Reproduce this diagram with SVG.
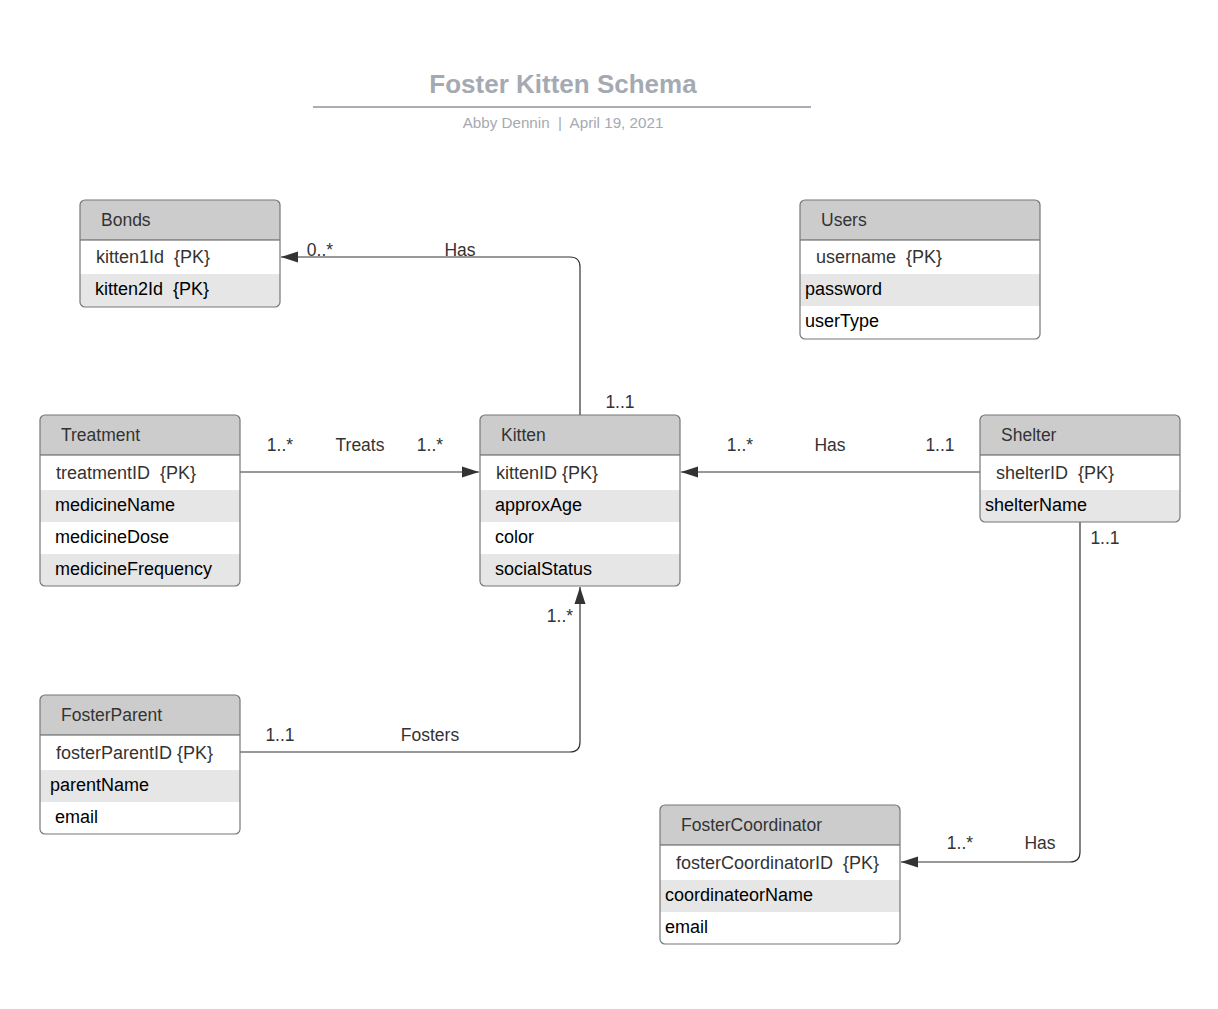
<svg xmlns="http://www.w3.org/2000/svg" width="1218" height="1009" viewBox="0 0 1218 1009" xml:space="preserve">
<style>
text{font-family:"Liberation Sans",Arial,sans-serif;white-space:pre;}
.box{fill:none;stroke:#777;stroke-width:1.2;}
.hdr{fill:#cccccc;}
.alt{fill:#e6e6e6;}
.sep{stroke:#555;stroke-width:1.2;}
.ht{font-size:17.5px;fill:#333;}
.pk{font-size:18px;fill:#333;}
.at{font-size:18px;fill:#000;}
.lbl{font-size:17.5px;fill:#333;text-anchor:middle;}
.con{fill:none;stroke:#333;stroke-width:1.2;}
</style>
<defs>
<marker id="arr" markerWidth="18" markerHeight="12" refX="17" refY="6" orient="auto" markerUnits="userSpaceOnUse">
<path d="M0,0.5 L17,6 L0,11.5 Z" fill="#333"/>
</marker>
<clipPath id="cBonds"><rect x="80" y="200" width="200" height="107" rx="5"/></clipPath>
<clipPath id="cUsers"><rect x="800" y="200" width="240" height="139" rx="5"/></clipPath>
<clipPath id="cTreat"><rect x="40" y="415" width="200" height="171" rx="5"/></clipPath>
<clipPath id="cKitten"><rect x="480" y="415" width="200" height="171" rx="5"/></clipPath>
<clipPath id="cShelter"><rect x="980" y="415" width="200" height="107" rx="5"/></clipPath>
<clipPath id="cFP"><rect x="40" y="695" width="200" height="139" rx="5"/></clipPath>
<clipPath id="cFC"><rect x="660" y="805" width="240" height="139" rx="5"/></clipPath>
</defs>
<rect width="1218" height="1009" fill="#fff"/>

<g id="title">
<text x="563" y="93" text-anchor="middle" style="font-size:26px;font-weight:bold;fill:#a5aab2">Foster Kitten Schema</text>
<line x1="313" y1="107" x2="811" y2="107" stroke="#a9adb5" stroke-width="2"/>
<text x="563" y="128" text-anchor="middle" style="font-size:15.2px;fill:#a5aab2">Abby Dennin  |  April 19, 2021</text>
</g>

<g id="connectors">
<path class="con" d="M580,415 V267 Q580,257 570,257 H281" marker-end="url(#arr)"/>
<path class="con" d="M240,472 H479" marker-end="url(#arr)"/>
<path class="con" d="M980,472 H681" marker-end="url(#arr)"/>
<path class="con" d="M240,752 H570 Q580,752 580,742 V587" marker-end="url(#arr)"/>
<path class="con" d="M1080,522 V852 Q1080,862 1070,862 H901" marker-end="url(#arr)"/>
<text class="lbl" x="320" y="256">0..*</text>
<text class="lbl" x="460" y="256">Has</text>
<text class="lbl" x="620" y="408">1..1</text>
<text class="lbl" x="280" y="451">1..*</text>
<text class="lbl" x="360" y="451">Treats</text>
<text class="lbl" x="430" y="451">1..*</text>
<text class="lbl" x="740" y="451">1..*</text>
<text class="lbl" x="830" y="451">Has</text>
<text class="lbl" x="940" y="451">1..1</text>
<text class="lbl" x="280" y="741">1..1</text>
<text class="lbl" x="430" y="741">Fosters</text>
<text class="lbl" x="560" y="622">1..*</text>
<text class="lbl" x="1105" y="544">1..1</text>
<text class="lbl" x="960" y="849">1..*</text>
<text class="lbl" x="1040" y="849">Has</text>
</g>

<g id="bonds">
<g clip-path="url(#cBonds)">
<rect x="80" y="200" width="200" height="107" fill="#fff"/>
<rect class="hdr" x="80" y="200" width="200" height="40"/>
<rect class="alt" x="80" y="274" width="200" height="33"/>
</g>
<line class="sep" x1="80" y1="240" x2="280" y2="240"/>
<rect class="box" x="80" y="200" width="200" height="107" rx="5"/>
<text class="ht" x="101" y="226">Bonds</text>
<text class="pk" x="96" y="263">kitten1Id  {PK}</text>
<text class="at" x="95" y="295">kitten2Id  {PK}</text>
</g>

<g id="users">
<g clip-path="url(#cUsers)">
<rect x="800" y="200" width="240" height="139" fill="#fff"/>
<rect class="hdr" x="800" y="200" width="240" height="40"/>
<rect class="alt" x="800" y="274" width="240" height="32"/>
</g>
<line class="sep" x1="800" y1="240" x2="1040" y2="240"/>
<rect class="box" x="800" y="200" width="240" height="139" rx="5"/>
<text class="ht" x="821" y="226">Users</text>
<text class="pk" x="816" y="263">username  {PK}</text>
<text class="at" x="805" y="295">password</text>
<text class="at" x="805" y="327">userType</text>
</g>

<g id="treatment">
<g clip-path="url(#cTreat)">
<rect x="40" y="415" width="200" height="171" fill="#fff"/>
<rect class="hdr" x="40" y="415" width="200" height="40"/>
<rect class="alt" x="40" y="490" width="200" height="32"/>
<rect class="alt" x="40" y="554" width="200" height="32"/>
</g>
<line class="sep" x1="40" y1="455" x2="240" y2="455"/>
<rect class="box" x="40" y="415" width="200" height="171" rx="5"/>
<text class="ht" x="61" y="441">Treatment</text>
<text class="pk" x="56" y="479">treatmentID  {PK}</text>
<text class="at" x="55" y="511">medicineName</text>
<text class="at" x="55" y="543">medicineDose</text>
<text class="at" x="55" y="575">medicineFrequency</text>
</g>

<g id="kitten">
<g clip-path="url(#cKitten)">
<rect x="480" y="415" width="200" height="171" fill="#fff"/>
<rect class="hdr" x="480" y="415" width="200" height="40"/>
<rect class="alt" x="480" y="490" width="200" height="32"/>
<rect class="alt" x="480" y="554" width="200" height="32"/>
</g>
<line class="sep" x1="480" y1="455" x2="680" y2="455"/>
<rect class="box" x="480" y="415" width="200" height="171" rx="5"/>
<text class="ht" x="501" y="441">Kitten</text>
<text class="pk" x="496" y="479">kittenID {PK}</text>
<text class="at" x="495" y="511">approxAge</text>
<text class="at" x="495" y="543">color</text>
<text class="at" x="495" y="575">socialStatus</text>
</g>

<g id="shelter">
<g clip-path="url(#cShelter)">
<rect x="980" y="415" width="200" height="107" fill="#fff"/>
<rect class="hdr" x="980" y="415" width="200" height="40"/>
<rect class="alt" x="980" y="490" width="200" height="32"/>
</g>
<line class="sep" x1="980" y1="455" x2="1180" y2="455"/>
<rect class="box" x="980" y="415" width="200" height="107" rx="5"/>
<text class="ht" x="1001" y="441">Shelter</text>
<text class="pk" x="996" y="479">shelterID  {PK}</text>
<text class="at" x="985" y="511">shelterName</text>
</g>

<g id="fosterparent">
<g clip-path="url(#cFP)">
<rect x="40" y="695" width="200" height="139" fill="#fff"/>
<rect class="hdr" x="40" y="695" width="200" height="40"/>
<rect class="alt" x="40" y="770" width="200" height="32"/>
</g>
<line class="sep" x1="40" y1="735" x2="240" y2="735"/>
<rect class="box" x="40" y="695" width="200" height="139" rx="5"/>
<text class="ht" x="61" y="721">FosterParent</text>
<text class="pk" x="56" y="759">fosterParentID {PK}</text>
<text class="at" x="50" y="791">parentName</text>
<text class="at" x="55" y="823">email</text>
</g>

<g id="fostercoordinator">
<g clip-path="url(#cFC)">
<rect x="660" y="805" width="240" height="139" fill="#fff"/>
<rect class="hdr" x="660" y="805" width="240" height="40"/>
<rect class="alt" x="660" y="880" width="240" height="32"/>
</g>
<line class="sep" x1="660" y1="845" x2="900" y2="845"/>
<rect class="box" x="660" y="805" width="240" height="139" rx="5"/>
<text class="ht" x="681" y="831">FosterCoordinator</text>
<text class="pk" x="676" y="869">fosterCoordinatorID  {PK}</text>
<text class="at" x="665" y="901">coordinateorName</text>
<text class="at" x="665" y="933">email</text>
</g>
</svg>
